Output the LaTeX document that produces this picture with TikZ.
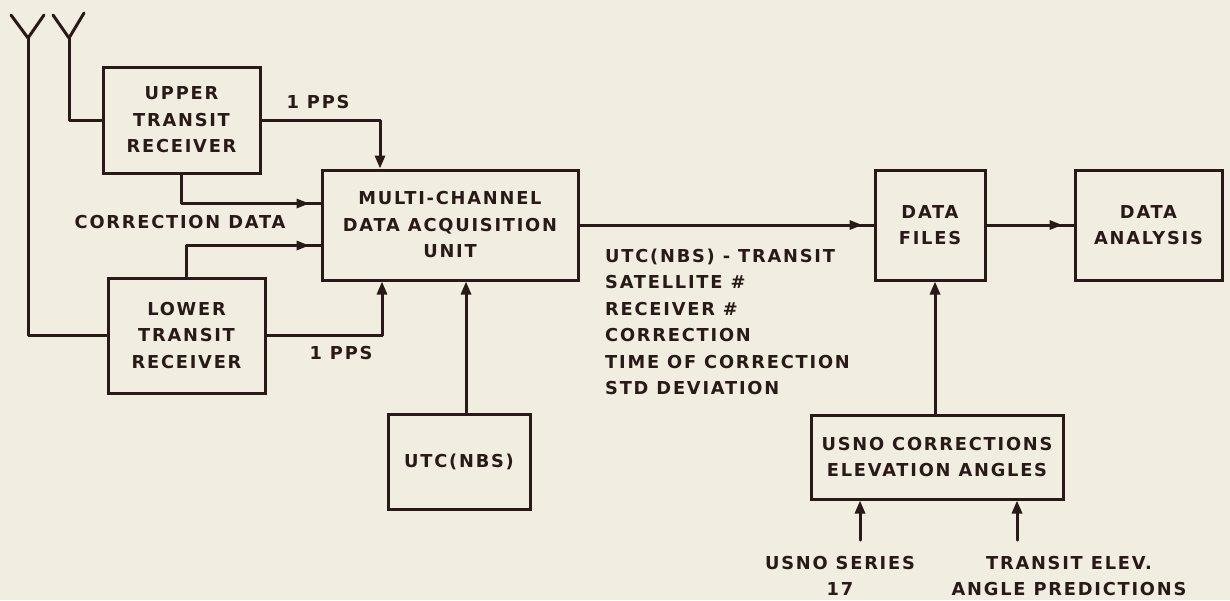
\documentclass[tikz,border=0pt]{standalone}
\usepackage{fontspec}
\setmainfont{DejaVu Sans}[LetterSpace=10]
\usetikzlibrary{arrows.meta,calc,decorations.markings}
\definecolor{paper}{RGB}{241,237,225}
\definecolor{ink}{RGB}{40,26,22}
\tikzset{
  lettering/.style={font=\bfseries\fontsize{17.8}{26.5}\selectfont, text=ink, align=center, inner sep=0pt},
  blockbox/.style={lettering, draw=ink, line width=3pt, rectangle},
  wire/.style={draw=ink, line width=3pt, line cap=round, line join=round},
  feed/.style={wire, -{Triangle[length=13pt,width=10pt]}},
  midfeed/.style={wire, postaction={decorate},
    decoration={markings, mark=at position -11pt with {\arrow{Triangle[length=13pt,width=9pt]}}}},
}
\begin{document}
\begin{tikzpicture}[x=1pt,y=-1pt]
  % paper
  \fill[paper] (0,0) rectangle (1230,600);
  \useasboundingbox (0,0) rectangle (1230,600);

  % blocks
  \node[blockbox, minimum width=157pt, minimum height=106pt] (upper) at (181.5,120) {UPPER\\TRANSIT\\RECEIVER};
  \node[blockbox, minimum width=157pt, minimum height=115pt] (lower) at (186.5,335.5) {LOWER\\TRANSIT\\RECEIVER};
  \node[blockbox, minimum width=256pt, minimum height=110pt] (mcdau) at (450,225) {MULTI-CHANNEL\\DATA ACQUISITION\\UNIT};
  \node[blockbox, minimum width=142pt, minimum height=95pt] (utc) at (459,461.5) {UTC(NBS)};
  \node[blockbox, minimum width=110pt, minimum height=110pt] (files) at (930,225) {DATA\\FILES};
  \node[blockbox, minimum width=147pt, minimum height=110pt] (analysis) at (1148.5,225) {DATA\\ANALYSIS};
  \node[blockbox, minimum width=252pt, minimum height=84pt] (usno) at (937,457) {USNO CORRECTIONS\\ELEVATION ANGLES};

  % antennas
  \coordinate (ant1) at (28,38);
  \coordinate (ant2) at (69,38);
  \draw[wire] (11,15) -- (ant1) -- (44,15);
  \draw[wire] (53,15) -- (ant2) -- (84,13);
  \draw[wire] (ant2) |- (upper.west);
  \draw[wire] (ant1) |- (lower.west);

  % receiver outputs
  \coordinate (ppsupin) at (380,100);
  \coordinate (ppslowin) at (382,300);
  \coordinate (utcout) at (466,400);
  \draw[feed] (upper.east) -| (ppsupin |- mcdau.north);
  \draw[feed] (lower.east) -| (ppslowin |- mcdau.south);
  \draw[midfeed] (upper.south) |- ($(mcdau.north west)+(0,35)$);
  \draw[midfeed] (lower.north) |- ($(mcdau.north west)+(0,77)$);
  \draw[feed] (utcout |- utc.north) -- (utcout |- mcdau.south);

  % data path
  \draw[midfeed] (mcdau.east) -- (files.west);
  \draw[midfeed] (files.east) -- (analysis.west);
  \coordinate (filesin) at (935,350);
  \draw[feed] (filesin |- usno.north) -- (filesin |- files.south);

  \coordinate (seriesin) at (860,540);
  \coordinate (predin) at (1017,540);
  \draw[feed] (seriesin) -- (seriesin |- usno.south);
  \draw[feed] (predin) -- (predin |- usno.south);

  % labels
  \node[lettering] (ppsup) at (318,102) {1 PPS};
  \node[lettering] (ppslow) at (341,353) {1 PPS};
  \node[lettering] (corr) at (180,222) {CORRECTION DATA};
  \node[lettering, align=left, anchor=base west] (contents) at (605,394.5)
    {UTC(NBS) - TRANSIT\\SATELLITE \#\\RECEIVER \#\\CORRECTION\\TIME OF CORRECTION\\STD DEVIATION};
  \node[lettering] (series) at (840,576) {USNO SERIES\\17};
  \node[lettering] (pred) at (1069,576) {TRANSIT ELEV.\\ANGLE PREDICTIONS};
\end{tikzpicture}
\end{document}
